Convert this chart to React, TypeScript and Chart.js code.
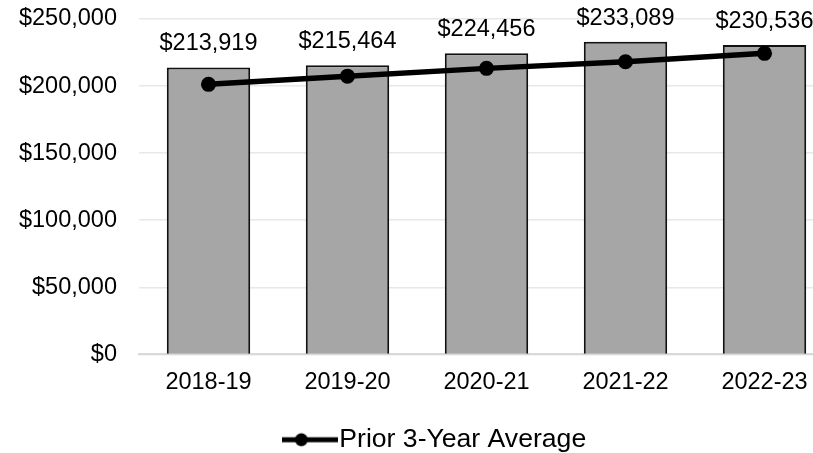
import { useEffect, useRef } from "react";
import { Chart, registerables } from "chart.js";

Chart.register(...registerables);

const categories = ["2018-19", "2019-20", "2020-21", "2021-22", "2022-23"];
const annualValues = [213919, 215464, 224456, 233089, 230536];
const priorAverage = [201300, 207400, 213200, 218100, 224400];
const yTicks = [0, 50000, 100000, 150000, 200000, 250000];
const seriesLabel = "Prior 3-Year Average";

const FONT_FAMILY = "'Liberation Sans', Arial, Helvetica, sans-serif";
const FONT_SIZE = 23.5;
const LEGEND_FONT_SIZE = 26.6;

function fmt(v: number): string {
  const s = Math.round(v).toString();
  return "$" + s.replace(/\B(?=(\d{3})+(?!\d))/g, ",");
}

function makeMarker(): HTMLCanvasElement {
  const c = document.createElement("canvas");
  c.width = 56;
  c.height = 16;
  const m = c.getContext("2d")!;
  m.strokeStyle = "#000";
  m.fillStyle = "#000";
  m.lineWidth = 5;
  m.beginPath();
  m.moveTo(0, 8);
  m.lineTo(56, 8);
  m.stroke();
  m.beginPath();
  m.arc(19, 8, 6.5, 0, Math.PI * 2);
  m.fill();
  return c;
}

const valueLabels = {
  id: "valueLabels",
  afterDatasetsDraw(chart: any) {
    const ctx = chart.ctx;
    const meta = chart.getDatasetMeta(1);
    ctx.save();
    ctx.font = `${FONT_SIZE}px ${FONT_FAMILY}`;
    ctx.fillStyle = "#000";
    ctx.textAlign = "center";
    ctx.textBaseline = "alphabetic";
    meta.data.forEach((el: any, i: number) => {
      ctx.fillText(fmt(annualValues[i]), el.x, el.y - 17);
    });
    ctx.restore();
  },
};

const legendShift = {
  id: "legendShift",
  afterLayout(chart: any) {
    const lg = chart.legend;
    if (lg) {
      lg.left += 23.4;
      lg.right += 23.4;
    }
  },
};

export default function App() {
  const ref = useRef<HTMLCanvasElement | null>(null);

  useEffect(() => {
    if (!ref.current) return;
    const marker = makeMarker();
    const font = { family: FONT_FAMILY, size: FONT_SIZE };
    const chart = new Chart(ref.current, {
      type: "bar",
      data: {
        labels: categories,
        datasets: [
          {
            type: "line",
            label: seriesLabel,
            data: priorAverage,
            borderColor: "#000",
            backgroundColor: "#000",
            borderWidth: 5.5,
            pointRadius: 7.5,
            pointBackgroundColor: "#000",
            pointBorderWidth: 0,
            tension: 0,
            order: 0,
          } as any,
          {
            type: "bar",
            label: "Annual",
            data: annualValues,
            backgroundColor: "#a5a6a5",
            borderColor: "#111",
            borderWidth: 2,
            barPercentage: 0.6,
            categoryPercentage: 1,
            order: 1,
          },
        ],
      },
      options: {
        responsive: false,
        animation: false,
        devicePixelRatio: 1,
        layout: { padding: { top: 19, right: 47, left: 0, bottom: 0 } },
        scales: {
          x: {
            grid: { display: false, drawTicks: false },
            border: { display: true, color: "#d9d9d9", width: 2 },
            ticks: { color: "#000", font, padding: 14 },
            afterFit: (s: any) => {
              s.height = 62;
            },
          },
          y: {
            min: 0,
            max: 250000,
            afterBuildTicks: (s: any) => {
              s.ticks = yTicks.map((v) => ({ value: v }));
            },
            afterFit: (s: any) => {
              s.width = 139;
              s.paddingTop = 0;
              s.paddingBottom = 0;
            },
            grid: { color: "#e8e8e8", lineWidth: 1.5, drawTicks: false },
            border: { display: false },
            ticks: {
              color: "#000",
              font,
              padding: 22,
              callback: (v: any) => fmt(Number(v)),
            },
          },
        },
        plugins: {
          legend: {
            position: "bottom",
            labels: {
              color: "#000",
              font: { family: FONT_FAMILY, size: LEGEND_FONT_SIZE },
              usePointStyle: true,
              pointStyleWidth: 31.4,
              padding: 10,
              generateLabels: (c: any) => {
                const items = Chart.defaults.plugins.legend.labels.generateLabels(c);
                return items
                  .filter((it: any) => it.datasetIndex === 0)
                  .map((it: any) => ({ ...it, pointStyle: marker }));
              },
            },
          },
          tooltip: { enabled: false },
        },
      },
      plugins: [valueLabels, legendShift],
    });
    return () => chart.destroy();
  }, []);

  return (
    <div
      style={{
        position: "fixed",
        left: 0,
        top: 0,
        width: 813,
        height: 453,
        overflow: "hidden",
        background: "#fff",
      }}
    >
      <canvas ref={ref} width={881} height={463} style={{ display: "block" }} />
    </div>
  );
}
